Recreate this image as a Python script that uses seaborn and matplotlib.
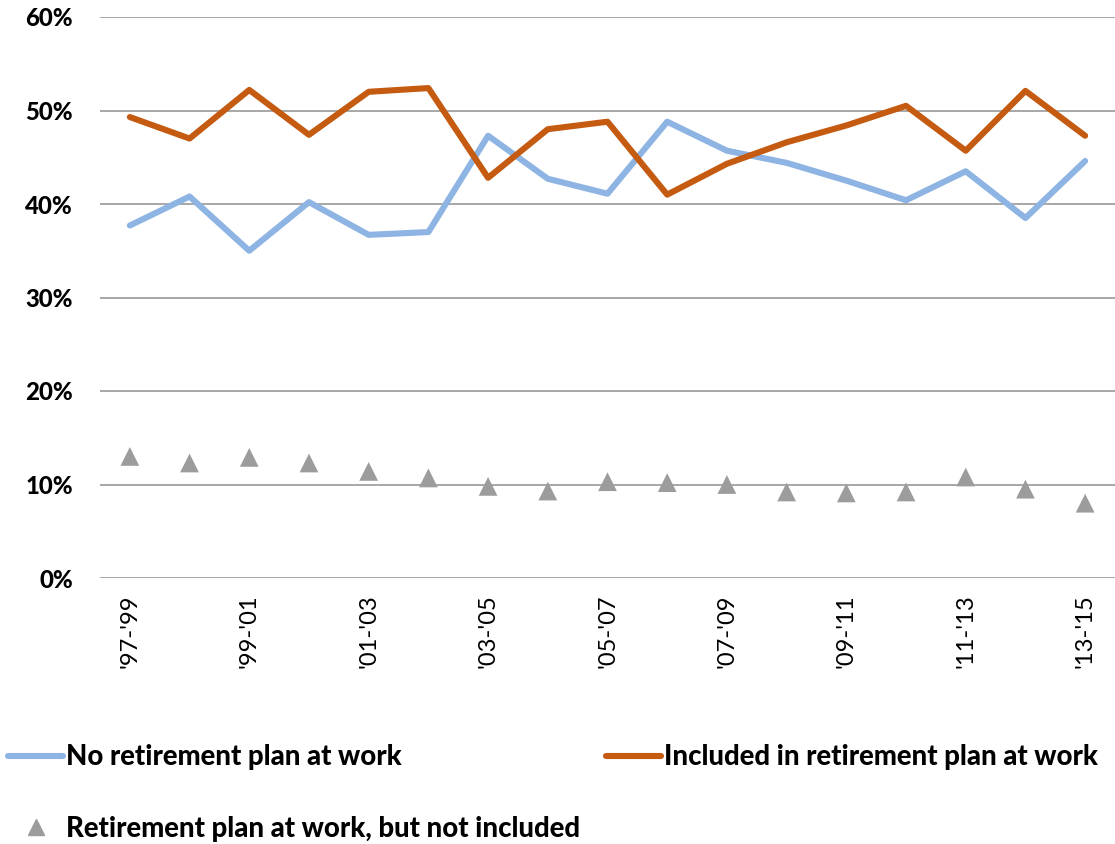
import matplotlib
matplotlib.use("Agg")
import matplotlib.pyplot as plt
from matplotlib.lines import Line2D
import numpy as np
import pandas as pd
import seaborn as sns

periods = ["'97-'99", "'98-'00", "'99-'01", "'00-'02", "'01-'03", "'02-'04",
           "'03-'05", "'04-'06", "'05-'07", "'06-'08", "'07-'09", "'08-'10",
           "'09-'11", "'10-'12", "'11-'13", "'12-'14", "'13-'15"]

no_plan = [37.7, 40.8, 35.0, 40.2, 36.7, 37.0, 47.3, 42.7, 41.1, 48.8,
           45.7, 44.4, 42.5, 40.4, 43.5, 38.5, 44.6]
included = [49.3, 47.0, 52.2, 47.4, 52.0, 52.4, 42.8, 48.0, 48.8, 41.0,
            44.3, 46.6, 48.4, 50.5, 45.7, 52.1, 47.3]
not_included = [13.0, 12.3, 12.9, 12.3, 11.4, 10.7, 9.8, 9.3, 10.3, 10.2,
                10.0, 9.2, 9.1, 9.2, 10.8, 9.5, 8.0]

series_names = ["No retirement plan at work",
                "Included in retirement plan at work",
                "Retirement plan at work, but not included"]
colors = {"No retirement plan at work": "#8DB4E2",
          "Included in retirement plan at work": "#C55A11"}
tri_color = "#9C9C9C"

sns.set_theme(style="white")
plt.rcParams["font.family"] = ["Lato", "DejaVu Sans"]
plt.rcParams["text.color"] = "black"
plt.rcParams["xtick.color"] = "black"
plt.rcParams["ytick.color"] = "black"

idx = np.arange(len(periods))
lines_df = pd.DataFrame({
    "x": np.concatenate([idx, idx]),
    "value": no_plan + included,
    "series": [series_names[0]] * len(idx) + [series_names[1]] * len(idx),
})
tri_df = pd.DataFrame({"x": idx, "value": not_included})

fig = plt.figure(figsize=(11.15, 8.44), dpi=100)
ax = fig.add_axes([100 / 1115, 1 - 578 / 844, 1015 / 1115, (578 - 17) / 844])

for v in range(0, 61, 10):
    ax.axhline(v, color="#A0A0A0", lw=1.3, zorder=0)

sns.lineplot(data=lines_df, x="x", y="value", hue="series", palette=colors,
             linewidth=4.4, ax=ax, legend=False, zorder=3)
sns.scatterplot(data=tri_df, x="x", y="value", marker="^", s=13.5 ** 2,
                color=tri_color, edgecolor="none", ax=ax, legend=False, zorder=4)

ax.set_xlim(-0.5, 16.5)
ax.set_ylim(0, 60)
ax.set_yticks(range(0, 61, 10))
ax.set_yticklabels([f"{v}%" for v in range(0, 61, 10)], fontsize=17.3,
                   fontweight="black")
ax.set_xticks(idx[::2])
ax.set_xticklabels([periods[i] for i in idx[::2]], rotation=90, fontsize=17,
                   va="top")
ax.tick_params(axis="y", length=0, pad=19.5)
ax.tick_params(axis="x", length=0, pad=12)
ax.set_xlabel("")
ax.set_ylabel("")
for s in ax.spines.values():
    s.set_visible(False)

handles = [
    Line2D([], [], color=colors[series_names[0]], lw=4.4, solid_capstyle="round"),
    Line2D([], [], color=tri_color, marker="^", ls="none", markersize=11),
    Line2D([], [], color=colors[series_names[1]], lw=4.4, solid_capstyle="round"),
]
labels = [series_names[0], series_names[2], series_names[1]]
fig.legend(handles, labels, ncol=2, loc="upper left",
           bbox_to_anchor=(0.0, 1 - 736 / 844), frameon=False,
           prop={"size": 19.8, "weight": "black"}, handlelength=2.0,
           handletextpad=0.1, labelspacing=1.65, columnspacing=0.95,
           borderaxespad=0, borderpad=0.3)

fig.savefig("out.png", dpi=100)
